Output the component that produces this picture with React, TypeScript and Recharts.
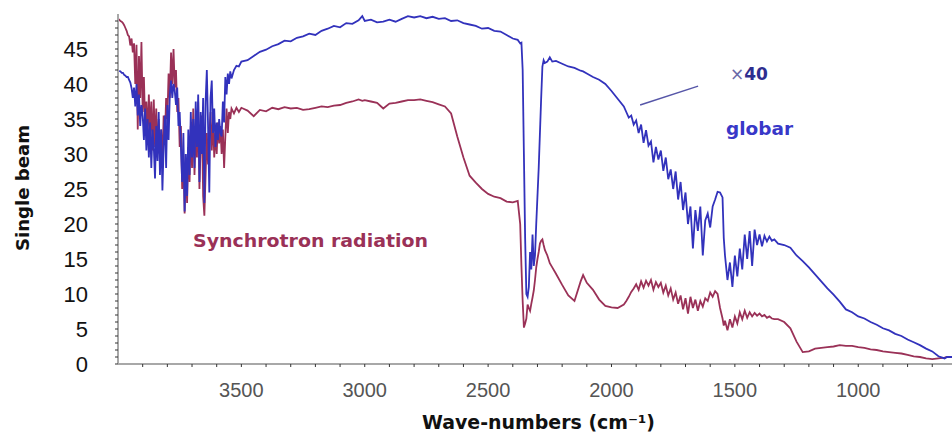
import { LineChart, Line, XAxis, YAxis, ReferenceLine } from 'recharts';

// wave-numbers (cm-1), high to low
const wavenumbers = [
  // water-vapour region
  4000, 3995, 3990, 3985, 3980, 3975, 3970, 3965, 3960, 3955,
  3950, 3945, 3940, 3935, 3930, 3925, 3920, 3915, 3910, 3905,
  3900, 3895, 3890, 3885, 3880, 3875, 3870, 3865, 3860, 3855,
  3850, 3845, 3840, 3835, 3830, 3825, 3820, 3815, 3810, 3805,
  3800, 3795, 3790, 3785, 3780, 3775, 3770, 3765, 3760, 3755,
  3750, 3745, 3740, 3735, 3730, 3725, 3720, 3715, 3710, 3705,
  3700, 3695, 3690, 3685, 3680, 3675, 3670, 3665, 3660, 3655,
  3650, 3645, 3640, 3635, 3630, 3625, 3620, 3615, 3610, 3605,
  3600, 3595, 3590, 3585, 3580, 3575, 3570, 3565, 3560, 3555,
  3550, 3545, 3540, 3530, 3520, 3510, 3500,
  // plateau
  3475, 3450, 3425, 3400, 3375, 3350, 3325, 3300, 3275, 3250,
  3225, 3200, 3175, 3150, 3125, 3100, 3075, 3050, 3025, 3010,
  3000, 2975, 2950, 2925, 2900, 2875, 2850, 2825, 2800, 2775,
  2750, 2725, 2700, 2675, 2650, 2625, 2600, 2575, 2550, 2525,
  2500, 2475, 2450, 2425, 2400,
  // CO2 band
  2380, 2370, 2365, 2360, 2355, 2350, 2345, 2340, 2335, 2330,
  2325, 2320, 2315, 2310, 2305, 2300, 2295, 2290, 2285, 2280,
  2275, 2270, 2260, 2250, 2240, 2225, 2200, 2175, 2150, 2125,
  2115, 2100, 2075, 2050, 2025, 2000, 1975, 1950,
  // water bending region
  1940, 1930, 1920, 1910, 1900, 1890, 1880, 1870, 1860, 1850,
  1840, 1830, 1820, 1810, 1800, 1790, 1780, 1770, 1760, 1750,
  1740, 1730, 1720, 1710, 1700, 1690, 1680, 1670, 1660, 1650,
  1640, 1630, 1620, 1610, 1600, 1590, 1580, 1570, 1560, 1550,
  1545,
  1540, 1530, 1520, 1510, 1500, 1490, 1480, 1470, 1460, 1450,
  1440, 1430, 1420, 1410, 1400, 1390, 1380, 1370, 1360, 1350, 1340,
  // tail
  1325, 1300, 1275, 1250, 1225, 1200, 1175, 1150, 1125, 1100,
  1075, 1050, 1025, 1000, 975, 950, 925, 900, 875, 850,
  825, 800, 775, 750, 725, 700, 675, 650, 640, 620,
];

// globar source (x40)
const globar = [
  null, 41.9, 41.8, 41.6, 41.6, 41.3, 41.2, 41.0, 41.0, 40.6,
  40.2, 39.4, 38.0, 39.5, 36.8, 40.0, 35.5, 38.5, 34.0, 37.0,
  35.5, 32.0, 36.5, 30.5, 35.0, 29.5, 34.5, 28.0, 33.5, 31.0,
  26.5, 34.0, 29.0, 36.0, 27.0, 33.5, 24.8, 31.0, 35.5, 28.0,
  37.0, 32.0, 38.5, 40.5, 38.0, 40.0, 39.0, 37.0, 39.5, 34.0,
  36.0, 31.0, 26.0, 33.0, 21.8, 30.0, 24.0, 33.5, 27.0, 36.0,
  29.5, 35.0, 28.0, 37.5, 31.0, 38.5, 26.0, 36.0, 30.0, 38.0,
  23.0, 37.5, 42.0, 34.0, 24.5, 38.0, 40.5, 33.0, 36.5, 31.0,
  34.5, 32.0, 35.0, 33.0, 32.5, 37.5, 34.5, 41.0, 38.5, 41.5,
  40.0, 41.8, 40.8, 42.0, 42.6, 42.5, 43.2,
  43.4, 44.0, 44.6, 44.9, 45.4, 45.7, 46.2, 46.1, 46.6, 46.8,
  47.2, 47.0, 47.6, 47.9, 48.3, 48.1, 48.7, 48.6, 49.1, 49.7,
  49.0, 49.2, 48.8, 48.9, 49.2, 48.9, 49.3, 49.7, 49.5, 49.7,
  49.4, 49.6, 49.3, 49.4, 49.0, 49.1, 48.7, 48.5, 48.3, 47.9,
  48.0, 47.6, 47.5, 47.0, 46.5,
  46.3, 45.8, 45.9, 42.0, 30.0, 18.0, 10.0, 9.6, 11.0, 16.0,
  13.5, 18.5, 14.0, 15.5, 20.0, 24.0, 28.0, 33.0, 38.0, 42.5,
  43.4, 43.0, 43.2, 43.8, 43.2, 43.3, 42.9, 42.5, 42.3, 41.9,
  41.8, 41.5, 41.0, 40.6, 40.0, 39.0, 37.9, 36.8,
  36.0, 35.2, 35.5, 34.2, 34.8, 33.0, 34.2, 31.6, 33.4, 31.2,
  31.8, 28.8, 31.0, 29.2, 30.5, 27.6, 29.5, 26.4, 27.8, 25.0,
  27.5, 23.5, 26.0, 22.0, 24.5, 20.0, 22.5, 16.5, 22.0, 19.0,
  22.5, 15.5, 20.5, 21.5, 19.5, 22.5, 23.5, 24.6, 24.5, 23.8,
  18.0,
  15.5, 12.0, 14.5, 11.0, 15.5, 12.5, 16.5, 13.5, 18.5, 15.0,
  19.0, 14.0, 19.2, 17.0, 18.5, 16.8, 18.3, 17.5, 18.2, 17.6, 17.8,
  17.2, 17.0, 16.6, 15.5, 14.7, 13.8, 12.8, 11.8, 10.8, 9.9,
  8.9, 7.8, 7.4, 6.8, 6.5, 6.0, 5.6, 5.1, 4.8, 4.3,
  4.0, 3.5, 3.1, 2.7, 2.2, 1.8, 1.1, 0.8, 1.0, 1.0,
];

// synchrotron radiation
const synchrotron = [
  49.3, 49.2, 49.0, 48.9, 48.7, 48.4, 48.0, 47.6, 47.0, 46.8,
  45.5, 46.5, 44.5, 45.8, 40.0, 45.6, 33.5, 44.0, 38.0, 46.0,
  36.0, 41.0, 34.0, 37.5, 32.5, 38.5, 33.0, 37.5, 30.5, 37.8,
  31.0, 36.5, 30.0, 35.0, 29.5, 33.5, 28.0, 35.5, 32.0, 38.0,
  35.0, 41.5, 38.0, 44.5, 40.0, 45.0, 39.5, 42.0, 36.0, 38.0,
  31.0, 34.0, 25.0, 30.0, 21.5, 28.5, 23.0, 31.0, 26.0, 34.0,
  28.0, 36.5, 27.0, 33.5, 29.5, 37.5, 25.0, 31.5, 35.5, 24.0,
  21.2, 27.0, 33.0, 28.5, 32.5, 36.0, 30.5, 35.0, 29.5, 33.0,
  30.0, 34.5, 31.5, 34.0, 30.0, 33.5, 28.0, 32.5, 36.5, 33.0,
  36.0, 35.0, 36.5, 35.8, 36.6, 36.0, 36.6,
  36.2, 35.4, 36.3, 36.1, 36.6, 36.4, 36.7, 36.5, 36.6, 36.3,
  36.4, 36.6, 36.8, 36.7, 36.9, 37.0, 37.3, 37.5, 37.8, 37.6,
  37.7, 37.5, 37.3, 36.5, 37.2, 37.3, 37.5, 37.7, 37.7, 37.8,
  37.6, 37.4, 37.1, 36.8, 35.8, 32.5, 29.5, 26.9, 25.9, 25.0,
  24.3, 23.9, 23.7, 23.2, 23.1,
  23.3, 20.0, 14.0, 9.0, 5.2, 5.8, 6.5, 8.5, 8.0, 7.6,
  8.6, 9.5, 10.5, 12.0, 13.8, 15.0, 16.0, 17.2, 17.6, 17.8,
  17.0, 16.3, 15.5, 14.4, 13.8, 12.9, 11.3, 9.8, 9.0, 11.8,
  12.7, 11.6, 10.6, 9.2, 8.3, 8.1, 8.0, 8.5,
  9.0, 9.6, 10.3, 10.8, 11.4, 10.6, 11.8, 10.9, 11.9, 11.2,
  12.0, 10.6, 11.7, 11.0, 11.6, 10.2, 11.2, 9.8, 10.8, 9.2,
  10.2, 8.6, 9.8, 7.8, 9.4, 7.2, 9.6, 8.0, 9.2, 7.6,
  9.0, 8.2, 9.4, 9.0, 10.2, 9.6, 10.4, 10.0, 8.0, 6.5,
  5.5,
  6.2, 4.8, 6.4, 5.2, 6.8, 5.8, 7.4, 6.4, 7.6, 6.6,
  7.4, 6.8, 7.3, 6.9, 7.2, 6.8, 7.0, 6.6, 6.8, 6.5, 6.4,
  6.4, 6.0, 5.1, 3.2, 1.7, 1.8, 2.2, 2.3, 2.4, 2.5,
  2.7, 2.6, 2.6, 2.4, 2.3, 2.1, 2.0, 1.8, 1.7, 1.6,
  1.5, 1.3, 1.1, 1.0, 0.8, 0.7, 0.8, 0.9, 1.0, 1.0,
];

const xTicks = [
  3900, 3800, 3700, 3600, 3500, 3400, 3300, 3200, 3100, 3000, 2900, 2800, 2700, 2600, 2500, 2400,
  2300, 2200, 2100, 2000, 1900, 1800, 1700, 1600, 1500, 1400, 1300, 1200, 1100, 1000, 900, 800, 700,
];
const xLabels = [3500, 3000, 2500, 2000, 1500, 1000];
const yTicks = [
  0, 1, 2, 3, 4, 5, 6, 7, 8, 9, 10, 11, 12, 13, 14, 15, 16, 17, 18, 19, 20, 21, 22, 23, 24,
  25, 26, 27, 28, 29, 30, 31, 32, 33, 34, 35, 36, 37, 38, 39, 40, 41, 42, 43, 44, 45, 46, 47, 48, 49,
];
const yLabels = [0, 5, 10, 15, 20, 25, 30, 35, 40, 45];

// pointer line from the globar curve to the "x40" note
const pointer = [
  { x: 1884, y: 37 },
  { x: 1649, y: 39.7 },
];

const data = wavenumbers.map((wn, i) => ({ wn, globar: globar[i], synchrotron: synchrotron[i] }));

const BLUE = '#3232bc';
const RED = '#9a3157';
const HEAVY = '"DejaVu Sans", sans-serif';

export default function App() {
  return (
    <div style={{ position: 'absolute', left: 0, top: 0, width: 952, height: 435, background: '#fff' }}>
      <LineChart width={952} height={435} data={data} margin={{ top: 14, right: 0, bottom: 0, left: 0 }}>
        <XAxis
          dataKey="wn"
          type="number"
          domain={[620, 4000]}
          reversed
          allowDataOverflow
          ticks={xTicks}
          interval={0}
          tickFormatter={(v) => (xLabels.includes(v) ? String(v) : '')}
          height={71}
          tickSize={3}
          tickMargin={16}
          axisLine={{ stroke: '#a8a8a8', strokeWidth: 2 }}
          tickLine={{ stroke: '#333' }}
          tick={{ fontSize: 20, fill: '#555', fontFamily: '"Liberation Sans", Arial, sans-serif' }}
        />
        <YAxis
          type="number"
          domain={[0, 50]}
          allowDataOverflow
          ticks={yTicks}
          interval={0}
          tickFormatter={(v) => (yLabels.includes(v) ? String(v) : '')}
          width={118}
          tickSize={3}
          tickMargin={27}
          axisLine={{ stroke: '#a8a8a8', strokeWidth: 2 }}
          tickLine={{ stroke: '#333' }}
          tick={{ fontSize: 22, fill: '#111', fontFamily: '"Liberation Sans", Arial, sans-serif' }}
        />
        <ReferenceLine segment={pointer} stroke="#5656a8" strokeWidth={1.5} />
        <Line dataKey="synchrotron" stroke={RED} strokeWidth={1.8} dot={false} isAnimationActive={false} />
        <Line dataKey="globar" stroke={BLUE} strokeWidth={1.8} dot={false} isAnimationActive={false} />
      </LineChart>
      <svg
        width={952}
        height={435}
        style={{ position: 'absolute', left: 0, top: 0, pointerEvents: 'none' }}
      >
        <text
          transform="translate(29,188) rotate(-90)"
          textAnchor="middle"
          fontFamily={HEAVY}
          fontWeight="bold"
          fontSize={18}
          fill="#111"
          textLength={126}
          lengthAdjust="spacingAndGlyphs"
        >
          Single beam
        </text>
        <text x={422} y={429} fontFamily={HEAVY} fontWeight="bold" fontSize={19} fill="#111" textLength={233} lengthAdjust="spacingAndGlyphs">
          Wave-numbers (cm⁻¹)
        </text>
        <text x={193} y={247} fontFamily={HEAVY} fontWeight="bold" fontSize={18} fill={RED} textLength={235} lengthAdjust="spacingAndGlyphs">
          Synchrotron radiation
        </text>
        <text x={730} y={80} fontFamily={HEAVY} fontWeight="bold" fontSize={17} fill="#2e2e8f" textLength={38} lengthAdjust="spacingAndGlyphs">
          <tspan fill="#6a6aa8" fontWeight="normal">×</tspan>40
        </text>
        <text x={726} y={135} fontFamily={HEAVY} fontWeight="bold" fontSize={18} fill="#3838c8" textLength={67} lengthAdjust="spacingAndGlyphs">
          globar
        </text>
      </svg>
    </div>
  );
}
